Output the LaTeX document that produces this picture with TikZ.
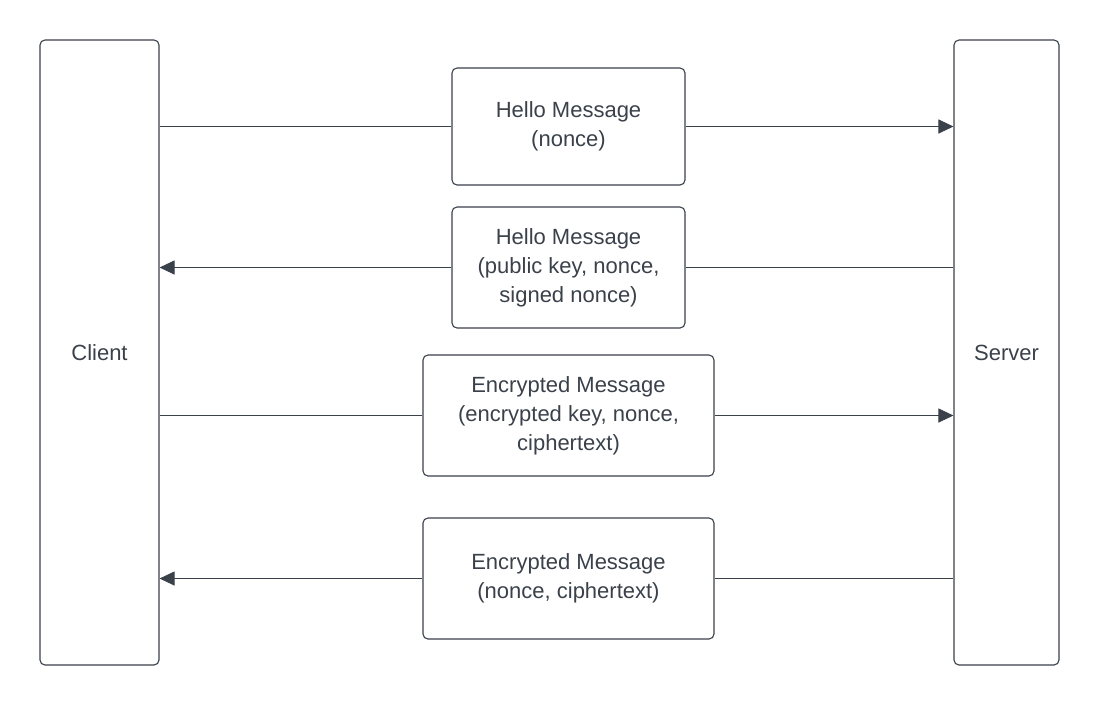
\documentclass[tikz,border=0pt]{standalone}
\usepackage{fontspec}
\setmainfont{Liberation Sans}
\usetikzlibrary{arrows.meta}
\definecolor{inkgray}{HTML}{3A414A}
\begin{document}
\begin{tikzpicture}[x=1pt, y=-1pt,
party_style/.style={draw=inkgray,line width=1.1pt,rounded corners=5pt,inner sep=0pt,minimum height=625pt,text=inkgray,font=\fontsize{22}{29}\selectfont},
msg_style/.style={draw=inkgray,line width=1.1pt,rounded corners=5pt,align=center,inner sep=0pt,minimum height=121pt,text=inkgray,font=\fontsize{22}{29}\selectfont},
edge_style/.style={draw=inkgray,line width=1pt},
arrow_style/.style={edge_style,-{Triangle[length=15pt,width=14pt]}}]
\useasboundingbox (0,0) rectangle (1099,705);
\node[party_style,minimum width=119pt] (client) at (99.5,352.5) {Client};
\node[party_style,minimum width=105pt] (server) at (1006.5,352.5) {Server};
\node[msg_style,minimum width=233pt,minimum height=117pt] (m1) at (568.5,126.5) {Hello Message\\(nonce)};
\node[msg_style,minimum width=233pt] (m2) at (568.5,267.5) {Hello Message\\(public key, nonce,\\signed nonce)};
\node[msg_style,minimum width=291pt] (m3) at (568.5,415.5) {Encrypted Message\\(encrypted key, nonce,\\ciphertext)};
\node[msg_style,minimum width=291pt] (m4) at (568.5,578.5) {Encrypted Message\\(nonce, ciphertext)};

% client -> server
\draw[edge_style]  (client.east |- m1.west) -- (m1.west);
\draw[arrow_style] (m1.east) -- (m1.east -| server.west);
\draw[edge_style]  (client.east |- m3.west) -- (m3.west);
\draw[arrow_style] (m3.east) -- (m3.east -| server.west);
% server -> client
\draw[edge_style]  (server.west |- m2.east) -- (m2.east);
\draw[arrow_style] (m2.west) -- (m2.west -| client.east);
\draw[edge_style]  (server.west |- m4.east) -- (m4.east);
\draw[arrow_style] (m4.west) -- (m4.west -| client.east);
\end{tikzpicture}
\end{document}
